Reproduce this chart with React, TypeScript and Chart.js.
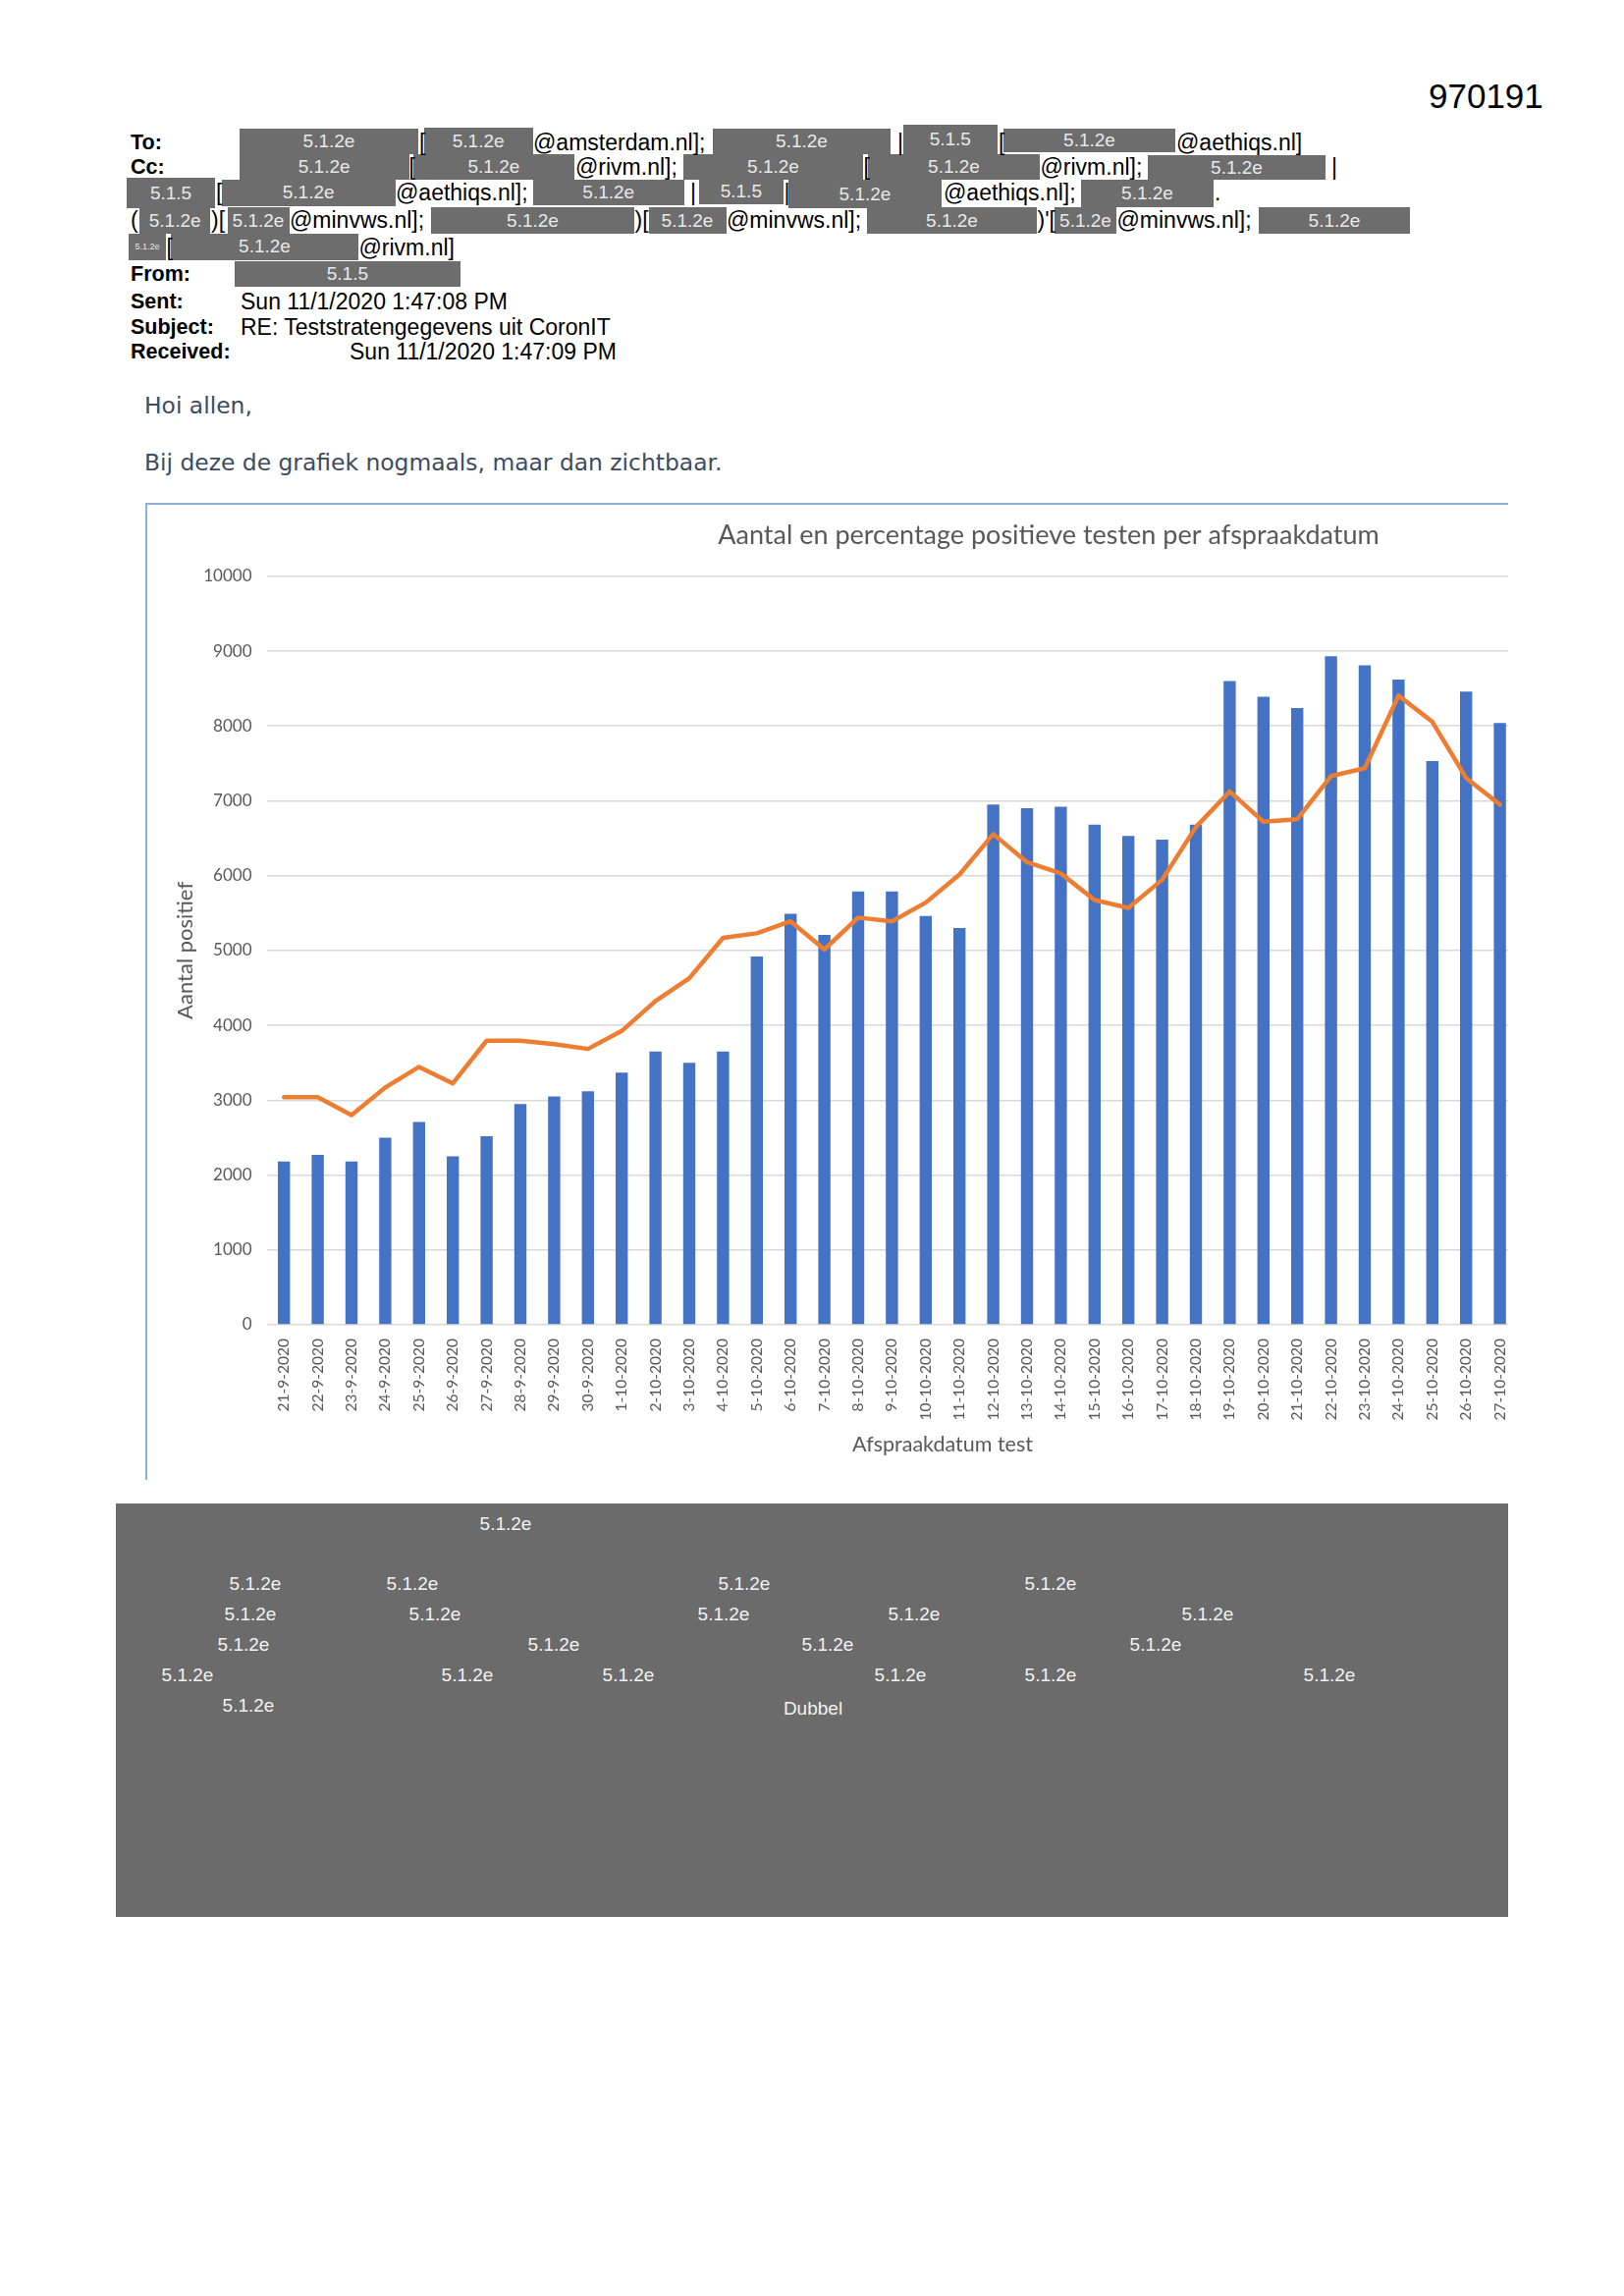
import React, { useEffect, useRef } from "react";
import { Chart, registerables } from "chart.js";

Chart.register(...registerables);

// ---------------- chart data ----------------
const chartTitle = "Aantal en percentage positieve testen per afspraakdatum";
const xAxisTitle = "Afspraakdatum test";
const yAxisTitle = "Aantal positief";

// the last three dates lie outside the cropped screenshot (no values visible)
const dateLabels = [
  "21-9-2020", "22-9-2020", "23-9-2020", "24-9-2020", "25-9-2020", "26-9-2020", "27-9-2020",
  "28-9-2020", "29-9-2020", "30-9-2020", "1-10-2020", "2-10-2020", "3-10-2020", "4-10-2020",
  "5-10-2020", "6-10-2020", "7-10-2020", "8-10-2020", "9-10-2020", "10-10-2020", "11-10-2020",
  "12-10-2020", "13-10-2020", "14-10-2020", "15-10-2020", "16-10-2020", "17-10-2020",
  "18-10-2020", "19-10-2020", "20-10-2020", "21-10-2020", "22-10-2020", "23-10-2020",
  "24-10-2020", "25-10-2020", "26-10-2020", "27-10-2020",
  "28-10-2020", "29-10-2020", "30-10-2020",
];

const positiveCounts = [
  2180, 2270, 2180, 2500, 2710, 2250, 2520, 2950, 3050, 3120,
  3370, 3650, 3500, 3650, 4920, 5490, 5210, 5790, 5790, 5460,
  5300, 6950, 6900, 6920, 6680, 6530, 6480, 6680, 8600, 8390,
  8240, 8930, 8810, 8620, 7530, 8460, 8040,
  null, null, null,
];

const positivePercent = [
  6.08, 6.08, 5.6, 6.34, 6.89, 6.45, 7.59, 7.59, 7.5, 7.37,
  7.85, 8.65, 9.26, 10.34, 10.46, 10.78, 10.03, 10.88, 10.78, 11.28,
  12.03, 13.11, 12.36, 12.06, 11.35, 11.14, 11.89, 13.3, 14.25, 13.44,
  13.51, 14.66, 14.87, 16.81, 16.11, 14.61, 13.9,
  null, null, null,
];

const countAxisMax = 10000;
const countAxisStep = 1000;
const percentAxisMax = 20;

// ---------------- page decoration (e-mail) ----------------
type Box = [number, number, number, number, string, number?];
const headerBoxes: Box[] = [
  [243.6, 426.4, 130.7, 157.3, "5.1.2e"],
  [431.7, 542.7, 130, 157.3, "5.1.2e"],
  [726, 907, 130.7, 157.3, "5.1.2e"],
  [919.6, 1016, 127, 157.3, "5.1.5"],
  [1022, 1197, 130.7, 155, "5.1.2e"],

  [243.6, 416.7, 157.3, 182.7, "5.1.2e"],
  [420.5, 585.3, 157.3, 182.7, "5.1.2e"],
  [696, 879, 157.3, 182.7, "5.1.2e"],
  [884, 1059, 157.3, 182.7, "5.1.2e"],
  [1169, 1350, 158, 183, "5.1.2e"],

  [128.7, 219.4, 180.7, 211.7, "5.1.5"],
  [225.7, 402.6, 183.3, 210, "5.1.2e"],
  [542.7, 696.8, 183.3, 209, "5.1.2e"],
  [712, 797.7, 180.7, 208, "5.1.5"],
  [802.5, 959.4, 183, 212, "5.1.2e"],
  [1101, 1236, 183, 211, "5.1.2e"],

  [141.8, 214.5, 210.7, 237.7, "5.1.2e"],
  [231.5, 294.5, 211, 238, "5.1.2e"],
  [439, 646, 211, 238, "5.1.2e"],
  [660.5, 739.5, 211, 238, "5.1.2e"],
  [883, 1056, 211, 238, "5.1.2e"],
  [1074, 1137, 211, 238, "5.1.2e"],
  [1282, 1436, 211, 238, "5.1.2e"],

  [130.7, 169.4, 238.3, 265, "5.1.2e", 9],
  [174, 365, 238.3, 265, "5.1.2e"],

  [238.8, 469, 266, 291.7, "5.1.5"],
];

type Txt = [number, number, string];
const headerTexts: Txt[] = [
  [427, 144.5, "["], [543, 144.5, "@amsterdam.nl];"], [914, 144.5, "|"], [1017, 144.5, "["],
  [1198, 144.5, "@aethiqs.nl]"],
  [416.5, 170, "["], [586, 170, "@rivm.nl];"], [879.5, 170, "["], [1059.5, 170, "@rivm.nl];"],
  [1356, 170, "|"],
  [220, 195.5, "["], [403, 195.5, "@aethiqs.nl];"], [703, 195.5, "|"], [798.5, 195.5, "|"],
  [961, 195.5, "@aethiqs.nl];"], [1237, 195.5, "."],
  [133, 224, "("], [215, 224, ")["], [295, 224, "@minvws.nl];"], [646.5, 224, ")["],
  [740, 224, "@minvws.nl];"], [1056.5, 224, ")'["], [1137.5, 224, "@minvws.nl];"],
  [169.5, 251.5, "["], [365.5, 251.5, "@rivm.nl]"],
  [245, 306.5, "Sun 11/1/2020 1:47:08 PM"],
  [245, 332.5, "RE: Teststratengegevens uit CoronIT"],
  [356, 358, "Sun 11/1/2020 1:47:09 PM"],
];

const headerLabels: Txt[] = [
  [133, 144.5, "To:"], [133, 170, "Cc:"], [133, 279, "From:"], [133, 306.5, "Sent:"],
  [133, 332.5, "Subject:"], [133, 358, "Received:"],
];

const redactLabels: Txt[] = [
  [515, 1552, "5.1.2e"],
  [260, 1613, "5.1.2e"], [420, 1613, "5.1.2e"], [758, 1613, "5.1.2e"], [1070, 1613, "5.1.2e"],
  [255, 1644, "5.1.2e"], [443, 1644, "5.1.2e"], [737, 1644, "5.1.2e"], [931, 1644, "5.1.2e"],
  [1230, 1644, "5.1.2e"],
  [248, 1675, "5.1.2e"], [564, 1675, "5.1.2e"], [843, 1675, "5.1.2e"], [1177, 1675, "5.1.2e"],
  [191, 1706, "5.1.2e"], [476, 1706, "5.1.2e"], [640, 1706, "5.1.2e"], [917, 1706, "5.1.2e"],
  [1070, 1706, "5.1.2e"], [1354, 1706, "5.1.2e"],
  [253, 1737, "5.1.2e"], [828, 1740, "Dubbel"],
];

const ARIAL = "'Liberation Sans', Arial, sans-serif";
const LATO = "Lato, 'Noto Sans', sans-serif";
const BODY_FONT = "'DejaVu Sans', Verdana, sans-serif";
const GREY_TEXT = "#595959";

function ChartBlock() {
  const ref = useRef<HTMLCanvasElement | null>(null);
  useEffect(() => {
    if (!ref.current) return;
    const chart = new Chart(ref.current, {
      type: "bar",
      data: {
        labels: dateLabels,
        datasets: [
          {
            type: "line",
            label: "Percentage positief",
            data: positivePercent,
            yAxisID: "y1",
            borderColor: "#ED7D31",
            backgroundColor: "#ED7D31",
            borderWidth: 4.5,
            pointRadius: 0,
            tension: 0,
            borderJoinStyle: "round",
            borderCapStyle: "round",
            order: 0,
          } as any,
          {
            type: "bar",
            label: "Aantal positief",
            data: positiveCounts,
            yAxisID: "y",
            backgroundColor: "#4472C4",
            barPercentage: 0.36,
            categoryPercentage: 1,
            order: 1,
          } as any,
        ],
      },
      options: {
        responsive: false,
        animation: false,
        layout: { padding: 0 },
        plugins: {
          legend: { display: false },
          tooltip: { enabled: false },
          title: {
            display: true,
            text: chartTitle,
            color: GREY_TEXT,
            font: { family: LATO, size: 27, weight: "normal" },
            padding: { top: 15, bottom: 25.4 },
          },
        },
        scales: {
          x: {
            grid: { display: false },
            border: { display: false },
            ticks: {
              autoSkip: false,
              minRotation: 90,
              maxRotation: 90,
              padding: 6,
              color: GREY_TEXT,
              font: { family: LATO, size: 15.5 },
            },
            title: {
              display: true,
              text: xAxisTitle,
              color: GREY_TEXT,
              font: { family: LATO, size: 21.5 },
              padding: { top: 0, bottom: 23 },
            },
            afterFit: (s: any) => { s.height = 158; },
          },
          y: {
            position: "left",
            min: 0,
            max: countAxisMax,
            ticks: {
              stepSize: countAxisStep,
              padding: 15.5,
              color: GREY_TEXT,
              font: { family: LATO, size: 17 },
              callback: (v: any) => String(v),
            },
            grid: { color: "#D9D9D9", lineWidth: 1.5, drawTicks: false },
            border: { display: false },
            title: {
              display: true,
              text: yAxisTitle,
              color: GREY_TEXT,
              font: { family: LATO, size: 22 },
              padding: { top: 25.6, bottom: 0 },
            },
            afterFit: (s: any) => { s.width = 122; },
          },
          y1: {
            position: "right",
            min: 0,
            max: percentAxisMax,
            ticks: { display: false },
            grid: { display: false, drawOnChartArea: false },
            border: { display: false },
            afterFit: (s: any) => { s.width = 338; },
          },
        },
      } as any,
    });
    return () => chart.destroy();
  }, []);
  return (
    <canvas
      ref={ref}
      width={1836}
      height={993}
      style={{ position: "absolute", left: 0, top: 0, width: 1836, height: 993 }}
    />
  );
}

export default function App() {
  return (
    <div
      style={{
        position: "absolute",
        left: 0,
        top: 0,
        width: 1654,
        height: 2338,
        background: "#ffffff",
        overflow: "hidden",
        fontFamily: ARIAL,
      }}
    >
      <div style={{ position: "absolute", left: 1455, top: 78, fontSize: 35, lineHeight: "40px", color: "#000" }}>
        970191
      </div>

      {headerBoxes.map(([x1, x2, y1, y2, t, fs], i) => (
        <div
          key={"b" + i}
          style={{
            position: "absolute",
            left: x1,
            top: y1,
            width: x2 - x1,
            height: y2 - y1,
            background: "#6d6d6d",
            color: "#e8e8e8",
            fontSize: fs || 19,
            lineHeight: `${y2 - y1}px`,
            textAlign: "center",
            whiteSpace: "nowrap",
            overflow: "hidden",
          }}
        >
          {t}
        </div>
      ))}

      {headerTexts.map(([x, y, t], i) => (
        <div
          key={"t" + i}
          style={{
            position: "absolute",
            left: x,
            top: y - 14,
            fontSize: 23,
            lineHeight: "28px",
            color: "#000",
            whiteSpace: "nowrap",
          }}
        >
          {t}
        </div>
      ))}

      {headerLabels.map(([x, y, t], i) => (
        <div
          key={"l" + i}
          style={{
            position: "absolute",
            left: x,
            top: y - 14,
            fontSize: 21.5,
            fontWeight: "bold",
            lineHeight: "28px",
            color: "#000",
            whiteSpace: "nowrap",
          }}
        >
          {t}
        </div>
      ))}

      <div style={{ position: "absolute", left: 147, top: 398, fontFamily: BODY_FONT, fontSize: 23.4, lineHeight: "30px", color: "#3d4b5e", whiteSpace: "nowrap" }}>
        Hoi allen,
      </div>
      <div style={{ position: "absolute", left: 147, top: 456, fontFamily: BODY_FONT, fontSize: 23.4, lineHeight: "30px", color: "#3d4b5e", whiteSpace: "nowrap" }}>
        Bij deze de grafiek nogmaals, maar dan zichtbaar.
      </div>

      <div
        style={{
          position: "absolute",
          left: 148,
          top: 512,
          width: 1388,
          height: 995,
          boxSizing: "border-box",
          borderTop: "2px solid #8DB0DE",
          borderLeft: "2px solid #8DB0DE",
          overflow: "hidden",
        }}
      >
        <ChartBlock />
      </div>

      <div
        style={{
          position: "absolute",
          left: 117.5,
          top: 1531,
          width: 1418.5,
          height: 421,
          background: "#6b6b6b",
        }}
      />
      {redactLabels.map(([x, y, t], i) => (
        <div
          key={"r" + i}
          style={{
            position: "absolute",
            left: x - 60,
            top: y - 12,
            width: 120,
            textAlign: "center",
            fontSize: 19,
            lineHeight: "24px",
            color: "#f2f2f2",
          }}
        >
          {t}
        </div>
      ))}
    </div>
  );
}
